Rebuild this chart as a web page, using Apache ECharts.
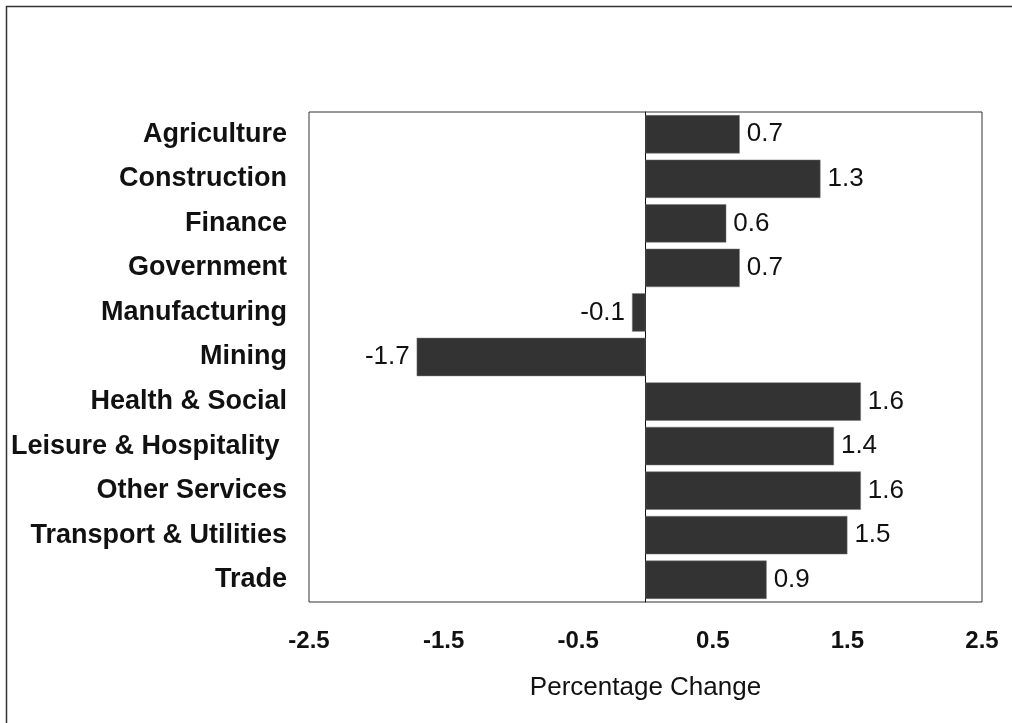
<!DOCTYPE html>
<html><head><meta charset="utf-8">
<script src="https://cdn.jsdelivr.net/npm/echarts@6/dist/echarts.min.js"></script>
<style>html,body{margin:0;padding:0;background:#fff}#c{width:1012px;height:723px}</style>
</head><body><div id="c"></div>
<script>
const categories = ['Agriculture','Construction','Finance','Government','Manufacturing','Mining','Health & Social','Leisure & Hospitality ','Other Services','Transport & Utilities','Trade'];
const values = [0.7, 1.3, 0.6, 0.7, -0.1, -1.7, 1.6, 1.4, 1.6, 1.5, 0.9];
const tickLabels = ['-2.5','-1.5','-0.5','0.5','1.5','2.5'];
const FONT = 'Liberation Sans, Arial, sans-serif';
const chart = echarts.init(document.getElementById('c'));
chart.setOption({
  animation: false,
  backgroundColor: '#fff',
  graphic: [{type:'rect', left:4, top:4, shape:{width:1030, height:740}, style:{fill:'none', stroke:'#333', lineWidth:1.5}, z:-10}],
  grid: {left:309, right:30, top:112, bottom:121, show:true, borderColor:'#333', borderWidth:1, backgroundColor:'#fff'},
  xAxis: {
    type:'value', min:-2.5, max:2.5, interval:0.5,
    name:'Percentage Change', nameLocation:'middle', nameGap:73,
    nameTextStyle:{fontFamily:FONT, fontSize:26, color:'#111'},
    axisLine:{show:false}, axisTick:{show:false}, splitLine:{show:false},
    axisLabel:{margin:27, fontFamily:FONT, fontSize:24, fontWeight:'bold', color:'#111',
      formatter: v => { const s = (Math.round(v*10)/10).toFixed(1); return tickLabels.includes(s) ? s : ''; }}
  },
  yAxis: {
    type:'category', data:categories, inverse:true,
    axisLine:{show:true, onZero:true, lineStyle:{color:'#111', width:1}}, axisTick:{show:false},
    axisLabel:{margin:22, fontFamily:FONT, fontSize:27, fontWeight:'bold', color:'#111'}
  },
  series: [{
    type:'bar',
    data: values.map(v => v < 0 ? {value:v, label:{position:'left'}} : {value:v}),
    barCategoryGap:'14%',
    itemStyle:{color:'#333333', borderColor:'#777', borderWidth:0.5},
    label:{show:true, position:'right', distance:7, fontFamily:FONT, fontSize:26, color:'#111',
      formatter: p => p.value.toFixed(1)}
  }]
});
</script></body></html>
